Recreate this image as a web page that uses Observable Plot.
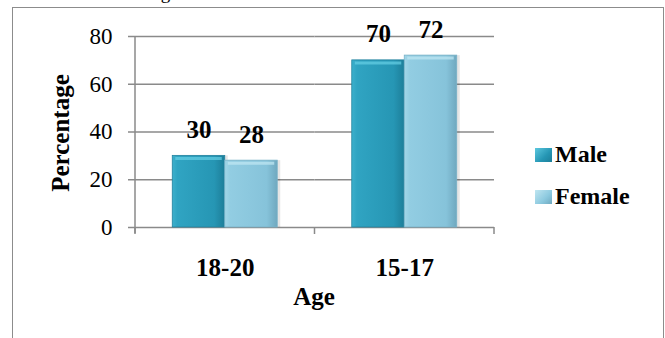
<!DOCTYPE html>
<html><head><meta charset="utf-8">
<script src="https://cdn.jsdelivr.net/npm/d3@7"></script>
<script src="https://cdn.jsdelivr.net/npm/@observablehq/plot@0.6"></script>
<style>
body{margin:0;background:#fff;}
#wrap{position:relative;width:665px;height:338px;overflow:hidden;font-family:"Liberation Serif","Times New Roman",serif;color:#000;}
#chart{position:absolute;left:0;top:0;}
#chart svg, #chart svg text{font-family:"Liberation Serif","Times New Roman",serif !important;}
.frame{position:absolute;left:12px;top:7px;width:650px;height:420px;border:1.5px solid #8c8c8c;z-index:2;pointer-events:none;}
.toptext{position:absolute;left:12px;top:-17px;font-size:19px;line-height:19px;white-space:nowrap;z-index:3;}
.toptext sup{font-size:12px;line-height:0;}
.title{position:absolute;font-weight:bold;font-size:25px;line-height:25px;white-space:nowrap;z-index:3;}
.ytitle{left:60px;top:133px;transform:translate(-50%,-50%) rotate(-90deg);}
.xtitle{left:314px;top:296px;transform:translate(-50%,-50%);}
.sw{position:absolute;width:17px;height:14px;z-index:3;}
.lt{position:absolute;font-weight:bold;font-size:24px;line-height:25px;white-space:nowrap;z-index:3;}
</style></head><body>
<div id="wrap">
<svg width="0" height="0" style="position:absolute">
  <defs>
    <linearGradient id="gMale" x1="0" x2="1" y1="0" y2="0">
      <stop offset="0" stop-color="#3cb0cc"/>
      <stop offset="0.1" stop-color="#30a4c2"/>
      <stop offset="0.8" stop-color="#2696b4"/>
      <stop offset="1" stop-color="#1d7e99"/>
    </linearGradient>
    <linearGradient id="gFemale" x1="0" x2="1" y1="0" y2="0">
      <stop offset="0" stop-color="#a2d6e8"/>
      <stop offset="0.1" stop-color="#92cde2"/>
      <stop offset="0.8" stop-color="#86c3da"/>
      <stop offset="1" stop-color="#6fa8bf"/>
    </linearGradient>
  </defs>
</svg>
<div id="chart"></div>
<div class="frame"></div>
<div class="toptext">school were in 10<sup>th</sup> grade.</div>
<div class="title ytitle">Percentage</div>
<div class="title xtitle">Age</div>
<div class="sw" style="left:535px;top:148px;background:linear-gradient(135deg,#5cc8df,#2596b4 60%,#1d7e99);"></div>
<div class="lt" style="left:555px;top:142px;">Male</div>
<div class="sw" style="left:535px;top:190px;background:linear-gradient(135deg,#c0e6f1,#8cc9df 60%,#6fa8bf);"></div>
<div class="lt" style="left:555px;top:184px;">Female</div>
</div>
<script>
const ages = ["18-20", "15-17"];
const sexes = ["Male", "Female"];
const male = [30, 70];
const female = [28, 72];
const yTicks = [0, 20, 40, 60, 80];

const maleData = ages.map((a, i) => ({age: a, sex: "Male", value: male[i]}));
const femaleData = ages.map((a, i) => ({age: a, sex: "Female", value: female[i]}));
const data = maleData.concat(femaleData);

const plot = Plot.plot({
  width: 665,
  height: 338,
  marginLeft: 135,
  marginRight: 171,
  marginTop: 36,
  marginBottom: 111,
  style: {fontFamily: "'Liberation Serif', 'Times New Roman', serif", background: "transparent", overflow: "visible", color: "#000"},
  fx: {domain: ages, padding: 0, round: false, label: null},
  x: {domain: sexes, paddingInner: 0, paddingOuter: 0.71, round: false, axis: null},
  y: {domain: [0, 80], label: null},
  marks: [
    Plot.ruleY(yTicks, {stroke: "#8a8a8a", strokeWidth: 1.5}),
    Plot.axisY({ticks: yTicks, tickSize: 7, tickPadding: 16, fontSize: 23, stroke: "#8a8a8a", strokeWidth: 1.5, label: null}),
    Plot.axisFx({anchor: "bottom", tickSize: 0, tickPadding: 31, fontSize: 25, fontWeight: "bold", label: null}),
    Plot.barY(data, {fx: "age", x: "sex", y: "value", fill: "#000", fillOpacity: 0.1, dx: 3, inset: 0}),
    Plot.barY(maleData, {fx: "age", x: "sex", y: "value", fill: "url(#gMale)", stroke: "#23839f", strokeWidth: 0.8, inset: 0}),
    Plot.barY(femaleData, {fx: "age", x: "sex", y: "value", fill: "url(#gFemale)", stroke: "#78b2c8", strokeWidth: 0.8, inset: 0}),
    Plot.tickY(maleData, {fx: "age", x: "sex", y: "value", stroke: "#66d0e6", strokeOpacity: 0.7, strokeWidth: 3, dy: 2.5, insetLeft: 3, insetRight: 3}),
    Plot.tickY(femaleData, {fx: "age", x: "sex", y: "value", stroke: "#c2e8f3", strokeOpacity: 0.7, strokeWidth: 3, dy: 2.5, insetLeft: 3, insetRight: 3}),
    Plot.text(data, {fx: "age", x: "sex", y: "value", text: d => String(d.value), dy: -26, fontSize: 25, fontWeight: "bold", fill: "#000"})
  ]
});
document.getElementById("chart").appendChild(plot);

// category axis line and boundary ticks, derived from the scales
const fxs = plot.scale("fx"), ys = plot.scale("y");
const edges = ages.map(a => fxs.apply(a));
edges.push(fxs.apply(ages[ages.length - 1]) + fxs.bandwidth);
const y0 = ys.apply(0), yTop = ys.apply(80);
const g = d3.select(plot).append("g").attr("stroke", "#8a8a8a").attr("stroke-width", 1.5);
g.append("line").attr("x1", edges[0]).attr("x2", edges[0]).attr("y1", yTop).attr("y2", y0 + 6);
edges.forEach(e => g.append("line").attr("x1", e).attr("x2", e).attr("y1", y0).attr("y2", y0 + 7));
</script>
</body></html>
